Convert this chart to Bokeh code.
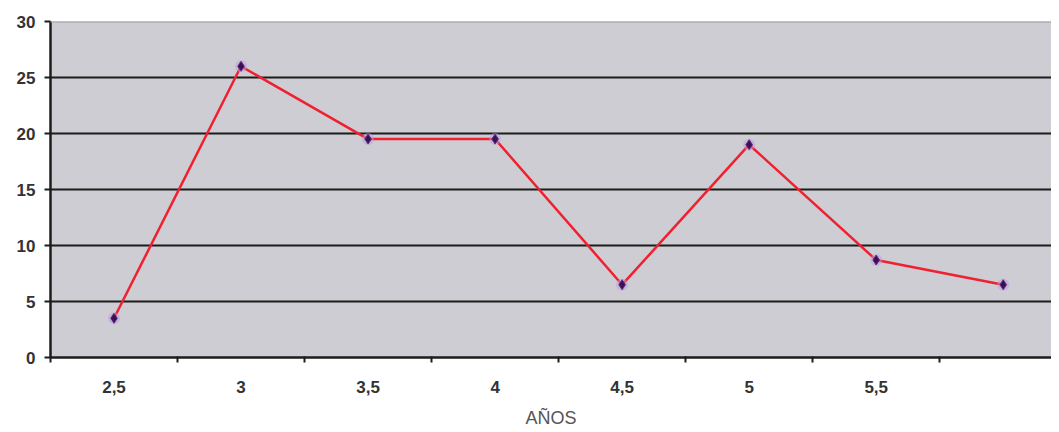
from bokeh.plotting import figure
from bokeh.models import Range1d, FixedTicker, Span
from bokeh.embed import file_html
from bokeh.resources import INLINE

categories = ["2,5", "3", "3,5", "4", "4,5", "5", "5,5", ""]
values = [3.5, 26, 19.5, 19.5, 6.5, 19, 8.7, 6.5]
y_ticks = [0, 5, 10, 15, 20, 25, 30]
x_title = "AÑOS"

xs = [i + 1 for i in range(len(categories))]

p = figure(width=1051, height=430, output_backend="svg", toolbar_location=None,
           x_range=Range1d(0.5, 8.38), y_range=Range1d(0, 30),
           min_border_left=50, min_border_right=0, min_border_top=21, min_border_bottom=10)
p.background_fill_color = "#cdcdd3"
p.border_fill_color = "white"
p.outline_line_color = None

p.xgrid.grid_line_color = None
p.ygrid.ticker = FixedTicker(ticks=y_ticks[1:-1])
p.ygrid.grid_line_color = "#1c1c1c"
p.ygrid.grid_line_width = 2
p.add_layout(Span(location=y_ticks[-1], dimension="width", line_color="#9c9ca4", line_width=2))

p.line(xs, values, line_color="#f02030", line_width=2.5)
p.scatter(xs, values, marker="circle", size=12, fill_color="#b8a0e0", fill_alpha=0.5, line_color=None)
p.scatter(xs, values, marker="diamond", size=10, fill_color="#3a1050", line_color="#6a2a8a", line_width=1)

xa = p.xaxis[0]
xa.ticker = FixedTicker(ticks=xs, minor_ticks=[x + 0.5 for x in range(len(categories) + 1)])
xa.major_label_overrides = {x: c for x, c in zip(xs, categories)}
xa.major_tick_line_color = None
xa.major_tick_out = 0
xa.major_tick_in = 0
xa.minor_tick_line_color = "#1c1c1c"
xa.minor_tick_line_width = 2
xa.minor_tick_out = 5
xa.minor_tick_in = 1
xa.axis_line_color = "#1c1c1c"
xa.axis_line_width = 2.5
xa.major_label_text_font = "Liberation Sans"
xa.major_label_text_font_style = "bold"
xa.major_label_text_font_size = "17px"
xa.major_label_text_color = "#333333"
xa.major_label_standoff = 18
xa.axis_label = x_title
xa.axis_label_text_font = "Liberation Sans"
xa.axis_label_text_font_style = "normal"
xa.axis_label_text_font_size = "18px"
xa.axis_label_text_color = "#555555"
xa.axis_label_standoff = 12

ya = p.yaxis[0]
ya.ticker = FixedTicker(ticks=y_ticks)
ya.minor_tick_line_color = None
ya.major_tick_line_color = "#1c1c1c"
ya.major_tick_line_width = 2
ya.major_tick_out = 6
ya.major_tick_in = 0
ya.axis_line_color = "#1c1c1c"
ya.axis_line_width = 2.5
ya.major_label_text_font = "Liberation Sans"
ya.major_label_text_font_style = "bold"
ya.major_label_text_font_size = "17px"
ya.major_label_text_color = "#333333"
ya.major_label_standoff = 9

open("out.html", "w").write(file_html(p, INLINE))
